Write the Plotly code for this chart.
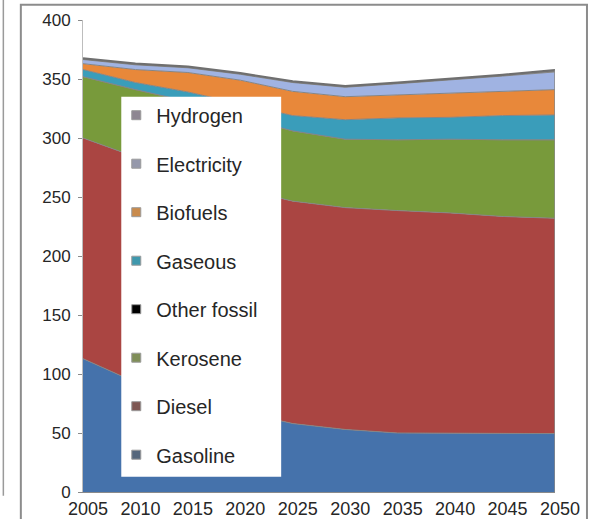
import plotly.graph_objects as go

years = [2005, 2010, 2015, 2020, 2025, 2030, 2035, 2040, 2045, 2050]
gasoline = [113, 93, 80, 68, 58, 53, 50, 50, 50, 49.5]
diesel = [187, 191, 190, 189, 188.5, 188, 188.5, 186.5, 183.5, 182.5]
kerosene = [52, 57, 61, 61, 59.5, 58, 60, 62.5, 65, 66.5]
other_fossil = [0, 0, 0, 0, 0, 0, 0, 0, 0, 0]
gaseous = [6, 6, 8, 11, 13, 16.5, 18.5, 18.5, 20.5, 21]
biofuels = [5, 11, 16.5, 20, 20.5, 19.5, 19.5, 20.5, 20.5, 21.5]
electricity = [3.5, 4, 4, 5, 7.5, 8, 9.5, 11, 13, 15]
hydrogen = [1, 1, 1, 1, 1, 1, 1, 1, 1, 1.5]

series = [
    ("Gasoline", gasoline, "#4572AB", "#56677c"),
    ("Diesel", diesel, "#AA4542", "#7e5753"),
    ("Kerosene", kerosene, "#789A3B", "#7f8e58"),
    ("Other fossil", other_fossil, "#000000", "#000000"),
    ("Gaseous", gaseous, "#3A9DBA", "#3f98ad"),
    ("Biofuels", biofuels, "#E8883A", "#c98b4c"),
    ("Electricity", electricity, "#A0B3E2", "#9598ab"),
    ("Hydrogen", hydrogen, "#8C8C8C", "#8e8792"),
]

fig = go.Figure()
for name, vals, col, _ in series:
    fig.add_trace(go.Scatter(
        x=years, y=vals, name=name, stackgroup="one", mode="lines",
        line=dict(color="#858585" if name != "Hydrogen" else "#6f6f6f",
                  width=1 if name != "Hydrogen" else 2.2),
        fillcolor=col, showlegend=False, hoverinfo="skip"))

# right edge outline of the stacked area
total_last = sum(s[1][-1] for s in series)
fig.add_trace(go.Scatter(x=[years[-1], years[-1]], y=[0, total_last], mode="lines",
                         line=dict(color="#8a8a8a", width=1.5), showlegend=False,
                         hoverinfo="skip"))

# legend entries (top to bottom)
for i, (name, vals, col, lcol) in enumerate(reversed(series)):
    fig.add_trace(go.Scatter(
        x=[None], y=[None], mode="markers", name=name, legendgroup=name,
        marker=dict(symbol="square", size=9, color=lcol,
                    line=dict(color="#9a9a9a", width=1))))

# plot area: left 82.7, right 555, top 20.3, bottom 492.3 (px)
def px_x(p):
    return (p - 82.7) / (555 - 82.7)

def px_y(p):
    return (492.3 - p) / (492.3 - 20.3)

shapes = [
    # white legend panel
    dict(type="rect", xref="paper", yref="paper", layer="above",
         x0=px_x(121), x1=px_x(281), y0=px_y(477), y1=px_y(97),
         fillcolor="white", line=dict(width=0)),
    # chart frame
    dict(type="rect", xref="paper", yref="paper", layer="above",
         x0=px_x(20.5), x1=px_x(587), y0=px_y(540), y1=px_y(5),
         fillcolor="rgba(0,0,0,0)", line=dict(color="#8c8c8c", width=2)),
    # neighbouring panel edge
    dict(type="line", xref="paper", yref="paper", layer="above",
         x0=px_x(3), x1=px_x(3), y0=px_y(496), y1=px_y(-5),
         line=dict(color="#9a9a9a", width=1.5)),
]

fig.update_layout(
    width=592, height=519,
    margin=dict(l=83, r=37, t=20, b=27, pad=0, autoexpand=False),
    paper_bgcolor="white", plot_bgcolor="white",
    font=dict(family="Liberation Sans, Arial, sans-serif", color="#262626"),
    shapes=shapes,
    showlegend=True,
    legend=dict(x=px_x(116), xanchor="left", y=px_y(96), yanchor="top",
                bgcolor="rgba(0,0,0,0)", borderwidth=0,
                font=dict(size=20, family="Liberation Sans, Arial, sans-serif", color="#262626"),
                traceorder="grouped", tracegroupgap=19.5, itemwidth=30),
    xaxis=dict(range=[2005, 2050], tickmode="array", tickvals=years,
               ticktext=[str(y) for y in years], showgrid=False, zeroline=False,
               showline=True, linecolor="#8a8a8a", linewidth=1,
               ticks="", automargin=False,
               tickfont=dict(size=18), ticklabelshift=5),
    yaxis=dict(range=[0, 400], dtick=50, showgrid=False, zeroline=False,
               showline=True, linecolor="#bdbdbd", linewidth=1, automargin=False,
               ticks="outside", ticklen=4, tickcolor="#8a8a8a",
               tickfont=dict(size=17), ticklabelstandoff=4),
)

fig.write_html("out.html")
